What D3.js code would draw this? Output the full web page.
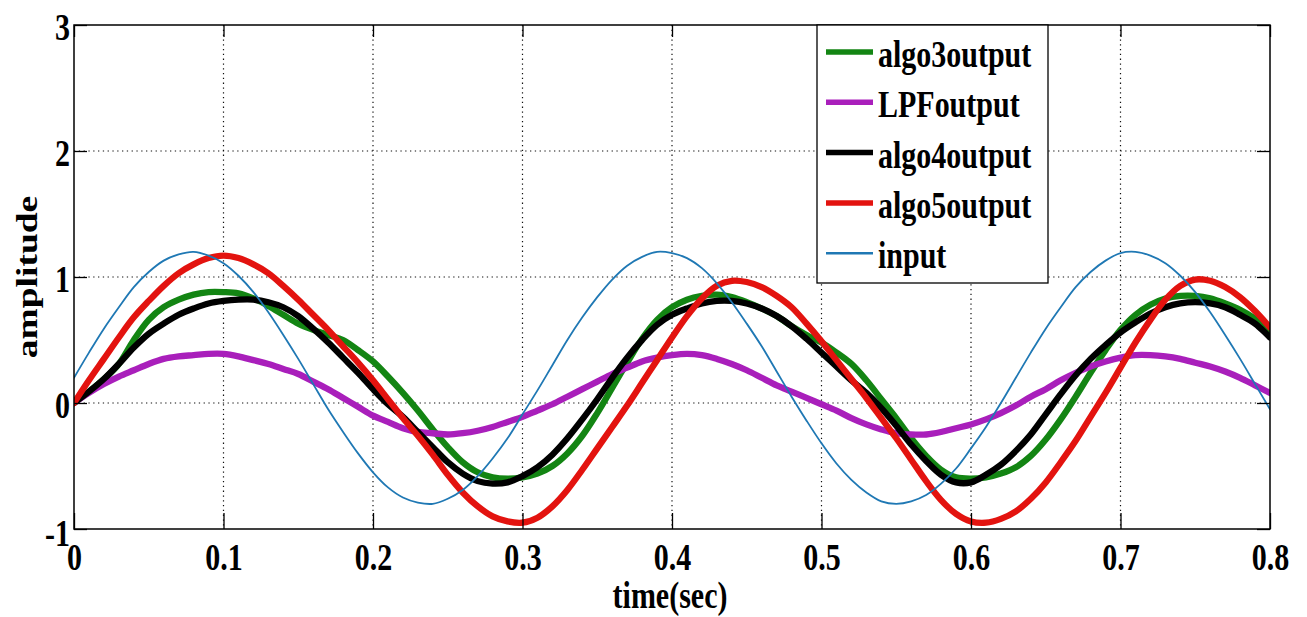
<!DOCTYPE html>
<html>
<head>
<meta charset="utf-8">
<script src="https://cdn.jsdelivr.net/npm/d3@7"></script>
<style>
  html, body { margin: 0; padding: 0; background: #fff; }
  svg { display: block; }
  text { font-family: "Liberation Serif", "Times New Roman", serif; font-weight: bold; fill: #000; }
</style>
</head>
<body>
<svg id="chart" width="1307" height="617"></svg>
<script>
// Sample times (s)
const time = [
  0.00,0.01,0.02,0.03,0.04,0.05,0.06,0.07,0.08,0.09,
  0.10,0.11,0.12,0.13,0.14,0.15,0.16,0.17,0.18,0.19,
  0.20,0.21,0.22,0.23,0.24,0.25,0.26,0.27,0.28,0.29,
  0.30,0.31,0.32,0.33,0.34,0.35,0.36,0.37,0.38,0.39,
  0.40,0.41,0.42,0.43,0.44,0.45,0.46,0.47,0.48,0.49,
  0.50,0.51,0.52,0.53,0.54,0.55,0.56,0.57,0.58,0.59,
  0.60,0.61,0.62,0.63,0.64,0.65,0.66,0.67,0.68,0.69,
  0.70,0.71,0.72,0.73,0.74,0.75,0.76,0.77,0.78,0.79,
  0.80
];

const algo3output = [
  0.00,0.09,0.19,0.31,0.50,0.66,0.76,0.82,0.86,0.88,
  0.88,0.87,0.83,0.77,0.70,0.63,0.58,0.54,0.50,0.42,
  0.33,0.21,0.08,-0.06,-0.21,-0.35,-0.47,-0.55,-0.59,-0.60,
  -0.59,-0.56,-0.50,-0.40,-0.26,-0.08,0.12,0.32,0.51,0.66,
  0.76,0.82,0.85,0.86,0.84,0.80,0.75,0.69,0.61,0.54,
  0.48,0.40,0.31,0.18,0.03,-0.12,-0.28,-0.42,-0.53,-0.59,
  -0.60,-0.59,-0.56,-0.51,-0.42,-0.29,-0.13,0.05,0.24,0.42,
  0.58,0.70,0.78,0.83,0.85,0.85,0.83,0.79,0.74,0.67,
  0.58
];

const LPFoutput = [
  0.00,0.08,0.15,0.21,0.26,0.31,0.35,0.37,0.38,0.39,
  0.39,0.37,0.34,0.31,0.27,0.23,0.17,0.11,0.04,-0.03,
  -0.10,-0.15,-0.20,-0.23,-0.24,-0.25,-0.24,-0.22,-0.19,-0.15,
  -0.11,-0.06,-0.01,0.05,0.11,0.17,0.23,0.28,0.33,0.36,
  0.38,0.39,0.38,0.35,0.31,0.26,0.20,0.14,0.09,0.04,
  -0.01,-0.06,-0.12,-0.17,-0.21,-0.24,-0.25,-0.25,-0.23,-0.20,
  -0.17,-0.13,-0.08,-0.02,0.05,0.11,0.18,0.24,0.29,0.33,
  0.36,0.38,0.38,0.37,0.35,0.32,0.29,0.25,0.20,0.14,
  0.08
];

const algo4output = [
  0.00,0.09,0.19,0.31,0.44,0.55,0.63,0.70,0.75,0.79,
  0.81,0.82,0.82,0.80,0.76,0.69,0.59,0.48,0.36,0.24,
  0.11,-0.01,-0.11,-0.23,-0.35,-0.47,-0.56,-0.62,-0.64,-0.63,
  -0.58,-0.51,-0.41,-0.28,-0.13,0.03,0.20,0.36,0.50,0.62,
  0.70,0.75,0.79,0.81,0.81,0.79,0.75,0.69,0.61,0.51,
  0.40,0.29,0.18,0.08,-0.04,-0.18,-0.33,-0.46,-0.57,-0.63,
  -0.63,-0.57,-0.49,-0.38,-0.25,-0.09,0.07,0.22,0.35,0.46,
  0.56,0.64,0.71,0.76,0.79,0.80,0.79,0.76,0.70,0.63,
  0.52
];

const algo5output = [
  0.00,0.18,0.35,0.52,0.68,0.81,0.93,1.03,1.10,1.15,
  1.17,1.15,1.10,1.03,0.93,0.82,0.70,0.58,0.45,0.32,
  0.18,0.03,-0.12,-0.26,-0.41,-0.57,-0.71,-0.82,-0.90,-0.94,
  -0.95,-0.91,-0.82,-0.69,-0.53,-0.36,-0.19,-0.02,0.16,0.34,
  0.52,0.69,0.83,0.93,0.97,0.96,0.92,0.85,0.76,0.63,
  0.49,0.34,0.19,0.04,-0.12,-0.28,-0.45,-0.62,-0.77,-0.88,
  -0.94,-0.95,-0.92,-0.86,-0.76,-0.63,-0.47,-0.30,-0.11,0.08,
  0.28,0.48,0.66,0.82,0.93,0.98,0.97,0.92,0.84,0.73,
  0.60
];

const input = [
  0.20,0.40,0.59,0.76,0.92,1.04,1.13,1.18,1.20,1.17,
  1.11,1.01,0.88,0.72,0.54,0.35,0.15,-0.05,-0.23,-0.40,
  -0.55,-0.67,-0.75,-0.79,-0.80,-0.76,-0.69,-0.58,-0.44,-0.28,
  -0.09,0.10,0.30,0.50,0.68,0.84,0.98,1.09,1.16,1.20,
  1.19,1.15,1.07,0.95,0.80,0.63,0.45,0.25,0.05,-0.14,
  -0.32,-0.48,-0.61,-0.71,-0.78,-0.80,-0.78,-0.73,-0.64,-0.52,
  -0.36,-0.19,0.00,0.20,0.40,0.59,0.76,0.92,1.04,1.13,
  1.19,1.20,1.17,1.11,1.01,0.88,0.72,0.54,0.35,0.15,
  -0.05
];

const seriesNames = ["algo3output", "LPFoutput", "algo4output", "algo5output", "input"];
const seriesValues = [algo3output, LPFoutput, algo4output, algo5output, input];
const seriesColors = ["#138513", "#a91fbb", "#000000", "#e3130f", "#1f78b4"];
const seriesWidths = [6.3, 6.3, 6.3, 6.3, 1.8];

const xTicks = [0, 0.1, 0.2, 0.3, 0.4, 0.5, 0.6, 0.7, 0.8];
const xTickLabels = ["0", "0.1", "0.2", "0.3", "0.4", "0.5", "0.6", "0.7", "0.8"];
const yTicks = [-1, 0, 1, 2, 3];
const yTickLabels = ["-1", "0", "1", "2", "3"];

const xTitle = "time(sec)";
const yTitle = "amplitude";

// Layout
const W = 1307, H = 617;
const plot = { left: 74, top: 25, right: 1270, bottom: 529 };
const STRETCH = 1.25;       // tall glyph proportion used for all labels
const FONT = 30;

const svg = d3.select("#chart");

const x = d3.scaleLinear().domain([0, 0.8]).range([plot.left, plot.right]);
const y = d3.scaleLinear().domain([-1, 3]).range([plot.bottom, plot.top]);

svg.append("rect").attr("width", W).attr("height", H).attr("fill", "#fff");

// Dotted grid at interior ticks
const grid = svg.append("g").attr("class", "grid")
  .attr("stroke", "#111").attr("stroke-width", 1.2).attr("stroke-dasharray", "1.3,3.5");
grid.selectAll("line.gx").data(xTicks.slice(1, -1)).join("line")
  .attr("class", "gx")
  .attr("x1", d => x(d)).attr("x2", d => x(d))
  .attr("y1", y(3)).attr("y2", y(-1));
grid.selectAll("line.gy").data(yTicks.slice(1, -1)).join("line")
  .attr("class", "gy")
  .attr("x1", x(0)).attr("x2", x(0.8))
  .attr("y1", d => y(d)).attr("y2", d => y(d));

// Clip for the traces
svg.append("defs").append("clipPath").attr("id", "plot-clip")
  .append("rect")
  .attr("x", plot.left).attr("y", plot.top)
  .attr("width", plot.right - plot.left).attr("height", plot.bottom - plot.top);

const line = d3.line()
  .x((d, i) => x(time[i]))
  .y(d => y(d))
  .curve(d3.curveCatmullRom.alpha(0.5));

const traces = svg.append("g").attr("clip-path", "url(#plot-clip)");
seriesValues.forEach((vals, k) => {
  traces.append("path")
    .datum(vals)
    .attr("d", line)
    .attr("fill", "none")
    .attr("stroke", seriesColors[k])
    .attr("stroke-width", seriesWidths[k])
    .attr("stroke-linejoin", "round")
    .attr("stroke-linecap", "round");
});

// Axes with inward ticks on all four sides
function styleAxis(g) {
  g.select(".domain").remove();
  g.selectAll(".tick line").attr("stroke", "#000").attr("stroke-width", 1.3);
}

const xAxis = svg.append("g")
  .attr("transform", `translate(0,${plot.bottom})`)
  .call(d3.axisBottom(x).tickValues(xTicks)
    .tickFormat((d, i) => xTickLabels[i])
    .tickSizeInner(-16).tickSizeOuter(0));
styleAxis(xAxis);
xAxis.selectAll(".tick text")
  .attr("y", 41 / STRETCH).attr("dy", null)
  .attr("transform", `scale(1,${STRETCH})`)
  .attr("text-anchor", "middle")
  .style("font-size", FONT + "px");

const yAxis = svg.append("g")
  .attr("transform", `translate(${plot.left},0)`)
  .call(d3.axisLeft(y).tickValues(yTicks)
    .tickFormat((d, i) => yTickLabels[i])
    .tickSizeInner(-13).tickSizeOuter(0));
styleAxis(yAxis);
yAxis.selectAll(".tick text")
  .attr("x", -4).attr("dy", null)
  .attr("y", d => (d === -1 ? 16 : 14) / STRETCH)
  .attr("transform", `scale(1,${STRETCH})`)
  .attr("text-anchor", "end")
  .style("font-size", FONT + "px");

const topAxis = svg.append("g")
  .attr("transform", `translate(0,${plot.top})`)
  .call(d3.axisTop(x).tickValues(xTicks).tickFormat("")
    .tickSizeInner(-12).tickSizeOuter(0));
styleAxis(topAxis);

const rightAxis = svg.append("g")
  .attr("transform", `translate(${plot.right},0)`)
  .call(d3.axisRight(y).tickValues(yTicks).tickFormat("")
    .tickSizeInner(-13).tickSizeOuter(0));
styleAxis(rightAxis);

// Plot frame
svg.append("rect")
  .attr("x", plot.left).attr("y", plot.top)
  .attr("width", plot.right - plot.left).attr("height", plot.bottom - plot.top)
  .attr("fill", "none").attr("stroke", "#000").attr("stroke-width", 1.5);

// Axis titles
svg.append("g")
  .attr("transform", `translate(670,608) scale(1,${STRETCH})`)
  .append("text")
  .attr("text-anchor", "middle")
  .style("font-size", FONT + "px")
  .text(xTitle);

svg.append("g")
  .attr("transform", `translate(37,277) scale(1,${STRETCH}) rotate(-90)`)
  .append("text")
  .attr("text-anchor", "middle")
  .style("font-size", FONT + "px")
  .text(yTitle);

// Legend
const legend = svg.append("g").attr("class", "legend");
legend.append("rect")
  .attr("x", 817).attr("y", plot.top)
  .attr("width", 231).attr("height", 258)
  .attr("fill", "#fff").attr("stroke", "#000").attr("stroke-width", 1.3);

const rowY = i => 52 + i * 50.3;
const items = legend.selectAll("g.item").data(seriesNames).join("g").attr("class", "item");
items.append("line")
  .attr("x1", 826).attr("x2", 873)
  .attr("y1", (d, i) => rowY(i)).attr("y2", (d, i) => rowY(i))
  .attr("stroke", (d, i) => seriesColors[i])
  .attr("stroke-width", (d, i) => seriesWidths[i] < 3 ? 2.6 : 5.5);
items.append("g")
  .attr("transform", (d, i) => `translate(878,${rowY(i) + 15}) scale(1,${STRETCH})`)
  .append("text")
  .style("font-size", FONT + "px")
  .text(d => d);
</script>
</body>
</html>
